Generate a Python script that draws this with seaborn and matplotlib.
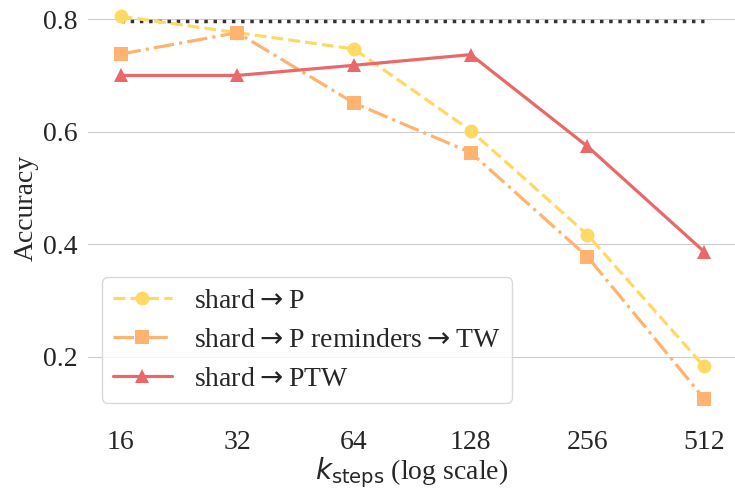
import numpy as np
import pandas as pd
import seaborn as sns
import matplotlib.pyplot as plt

sns.set_style("whitegrid")
plt.rcParams['font.family'] = ['Liberation Serif', 'DejaVu Serif']
plt.rcParams['mathtext.fontset'] = 'dejavusans'

# %% Data

steps = [16, 32, 64, 128, 256, 512]
acc_p = [0.805, 0.776, 0.747, 0.602, 0.417, 0.183]
acc_p_rem_tw = [0.738, 0.776, 0.651, 0.563, 0.378, 0.126]
acc_ptw = [0.700, 0.700, 0.718, 0.737, 0.574, 0.387]
baseline = 0.797

labels = [r'shard$\rightarrow$P',
          r'shard$\rightarrow$P reminders$\rightarrow$TW',
          r'shard$\rightarrow$PTW']
colors = ['#ffd966', '#ffb36e', '#e9696a']
markers = ['o', 's', '^']
styles = ['--', '-.', '-']

data = pd.DataFrame({
    'steps': steps * 3,
    'Accuracy': acc_p + acc_p_rem_tw + acc_ptw,
    'Setting': np.repeat(labels, len(steps)),
})

# %% Plot

fig, ax = plt.subplots(figsize=(7.35, 4.93), dpi=100)

for lab, c, m, ls in zip(labels, colors, markers, styles):
    sub = data.loc[data.Setting == lab]
    sns.lineplot(data=sub, x='steps', y='Accuracy', ax=ax, color=c, marker=m,
                 linestyle=ls, linewidth=2.3, markersize=10, markeredgewidth=0,
                 label=lab)

ax.hlines(baseline, steps[0], steps[-1], colors='#333333', linestyles=':', linewidth=2.5, zorder=1)

ax.set_xscale('log', base=2)
ax.set_xticks(steps)
ax.set_xticklabels([str(s) for s in steps])
ax.minorticks_off()
ax.set_xlim(13.2, 615)
ax.set_ylim(0.094, 0.834)
ax.set_yticks([0.2, 0.4, 0.6, 0.8])
ax.grid(axis='x', visible=False)
ax.tick_params(axis='both', labelsize=20, length=4, color='#555555', width=0.8)
ax.tick_params(axis='x', pad=6)
ax.set_xlabel(r'$k_{\mathrm{steps}}$ (log scale)', fontsize=20, labelpad=0)
ax.set_ylabel('Accuracy', fontsize=20, labelpad=3)
sns.despine(left=True, bottom=True)

ax.legend(loc='lower left', fontsize=20, frameon=True, borderaxespad=0.5,
          handlelength=2.1, labelspacing=0.48, edgecolor='#d0d0d0')

fig.subplots_adjust(left=0.12, right=1.0, top=1.0, bottom=0.155)
plt.savefig('out.png', dpi=100)
